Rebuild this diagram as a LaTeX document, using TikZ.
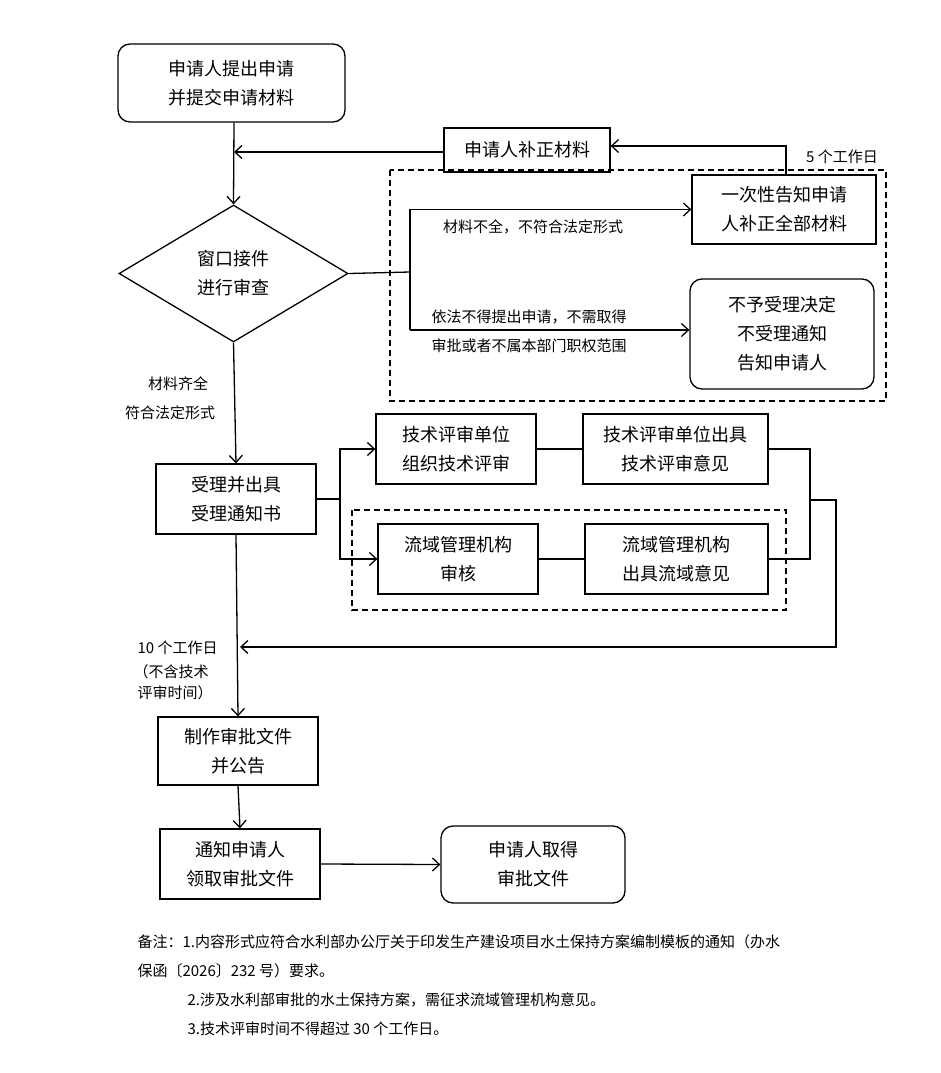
\documentclass[tikz,border=0pt]{standalone}
\usepackage{fontspec}
\setmainfont{Noto Sans CJK SC}
\usetikzlibrary{shapes.geometric,arrows.meta}
\begin{document}
\begin{tikzpicture}[x=1pt,y=-1pt,
  box/.style={draw,line width=1.3pt,minimum width=#1,align=center,font=\fontsize{18}{29}\selectfont,inner sep=0pt},
  rbox/.style={box=#1,rounded corners=12pt},
  lab/.style={font=\fontsize{15}{24}\selectfont,align=left},
  ln/.style={line width=1.3pt},
  arr/.style={line width=1.3pt,-{Straight Barb[length=7pt,width=13pt]}},
  dbox/.style={draw,dashed,line width=1.3pt,dash pattern=on 6pt off 4pt}]
\useasboundingbox (0,0) rectangle (940,1073);
\node[rbox=227pt,minimum height=78pt] (a) at (231.5,83) {申请人提出申请\\并提交申请材料};
\node[draw,diamond,aspect=1.67,line width=1.3pt,minimum width=229pt,minimum height=137pt,inner sep=0pt,align=center,font=\fontsize{18}{29}\selectfont] (d) at (233.5,273.5) {窗口接件\\进行审查};
\node[box=166pt,minimum height=44pt] (b) at (527,150) {申请人补正材料};
\draw[dbox] (390,170) rectangle (886,401);
\node[box=184pt,minimum height=69pt] (c) at (784,209.5) {一次性告知申请\\人补正全部材料};
\node[rbox=184pt,minimum height=110pt] (n) at (782,334) {不予受理决定\\不受理通知\\告知申请人};
\coordinate (j) at (410,272);
\draw[ln] (d.east) -- (j);
\draw[arr] (410,210) |- (c.west);
\draw[ln] (410,210) -- (410,330);
\draw[arr] (410,330) -- (n.west|-410,330);
\draw[arr] (786,175) |- (b.east|-0,146);
\node[lab] at (842,157) {5 个工作日};
\draw[arr] (b.west|-0,152) -- (234,152);
\draw[arr] (a.south-|234,0) -- (d.north);
\node[lab] at (533,227) {材料不全，不符合法定形式};
\node[lab,anchor=west] at (428,317) {依法不得提出申请，不需取得};
\node[lab,anchor=west] at (428,346) {审批或者不属本部门职权范围};
\node[lab] at (178,384) {材料齐全};
\node[lab] at (170,413) {符合法定形式};
\node[box=160pt,minimum height=70pt] (r) at (236,499) {受理并出具\\受理通知书};
\draw[arr] (d.south) -- (r.north);
\node[box=160pt,minimum height=70pt] (t1) at (456,449) {技术评审单位\\组织技术评审};
\node[box=185pt,minimum height=70pt] (t2) at (675.5,449) {技术评审单位出具\\技术评审意见};
\draw[dbox] (352,510) rectangle (786,610);
\node[box=160pt,minimum height=70pt] (w1) at (458,559) {流域管理机构\\审核};
\node[box=183pt,minimum height=70pt] (w2) at (676.5,559) {流域管理机构\\出具流域意见};
\draw[ln] (r.east) -- (340,499);
\draw[arr] (340,499) |- (t1.west);
\draw[arr] (340,499) |- (w1.west);
\draw[ln] (t1) -- (t2);
\draw[ln] (w1) -- (w2);
\draw[ln] (t2.east) -| (810,559) -- (w2.east);
\node[box=160pt,minimum height=68pt] (m) at (238,751) {制作审批文件\\并公告};
\coordinate (k) at (240,647);
\draw[arr] (810,500) -- (836,500) -- (836,647) -- (k);
\draw[arr] (r.south) -- (m.north);
\node[lab,anchor=west] at (134,648) {10 个工作日};
\node[lab,anchor=west] at (130,672) {（不含技术};
\node[lab,anchor=west] at (134,693) {评审时间）};
\node[box=160pt,minimum height=70pt] (no) at (240,864) {通知申请人\\领取审批文件};
\node[rbox=184pt,minimum height=77pt] (g) at (533,864.5) {申请人取得\\审批文件};
\draw[arr] (m.south) -- (no.north);
\draw[arr] (no.east) -- (g.west);
\begin{scope}[font=\fontsize{15}{24}\selectfont]
\node[anchor=west] at (134,942) {备注：1.内容形式应符合水利部办公厅关于印发生产建设项目水土保持方案编制模板的通知（办水};
\node[anchor=west] at (134,971) {保函〔2026〕232 号）要求。};
\node[anchor=west] at (184,1000) {2.涉及水利部审批的水土保持方案，需征求流域管理机构意见。};
\node[anchor=west] at (184,1029) {3.技术评审时间不得超过 30 个工作日。};
\end{scope}
\end{tikzpicture}
\end{document}
